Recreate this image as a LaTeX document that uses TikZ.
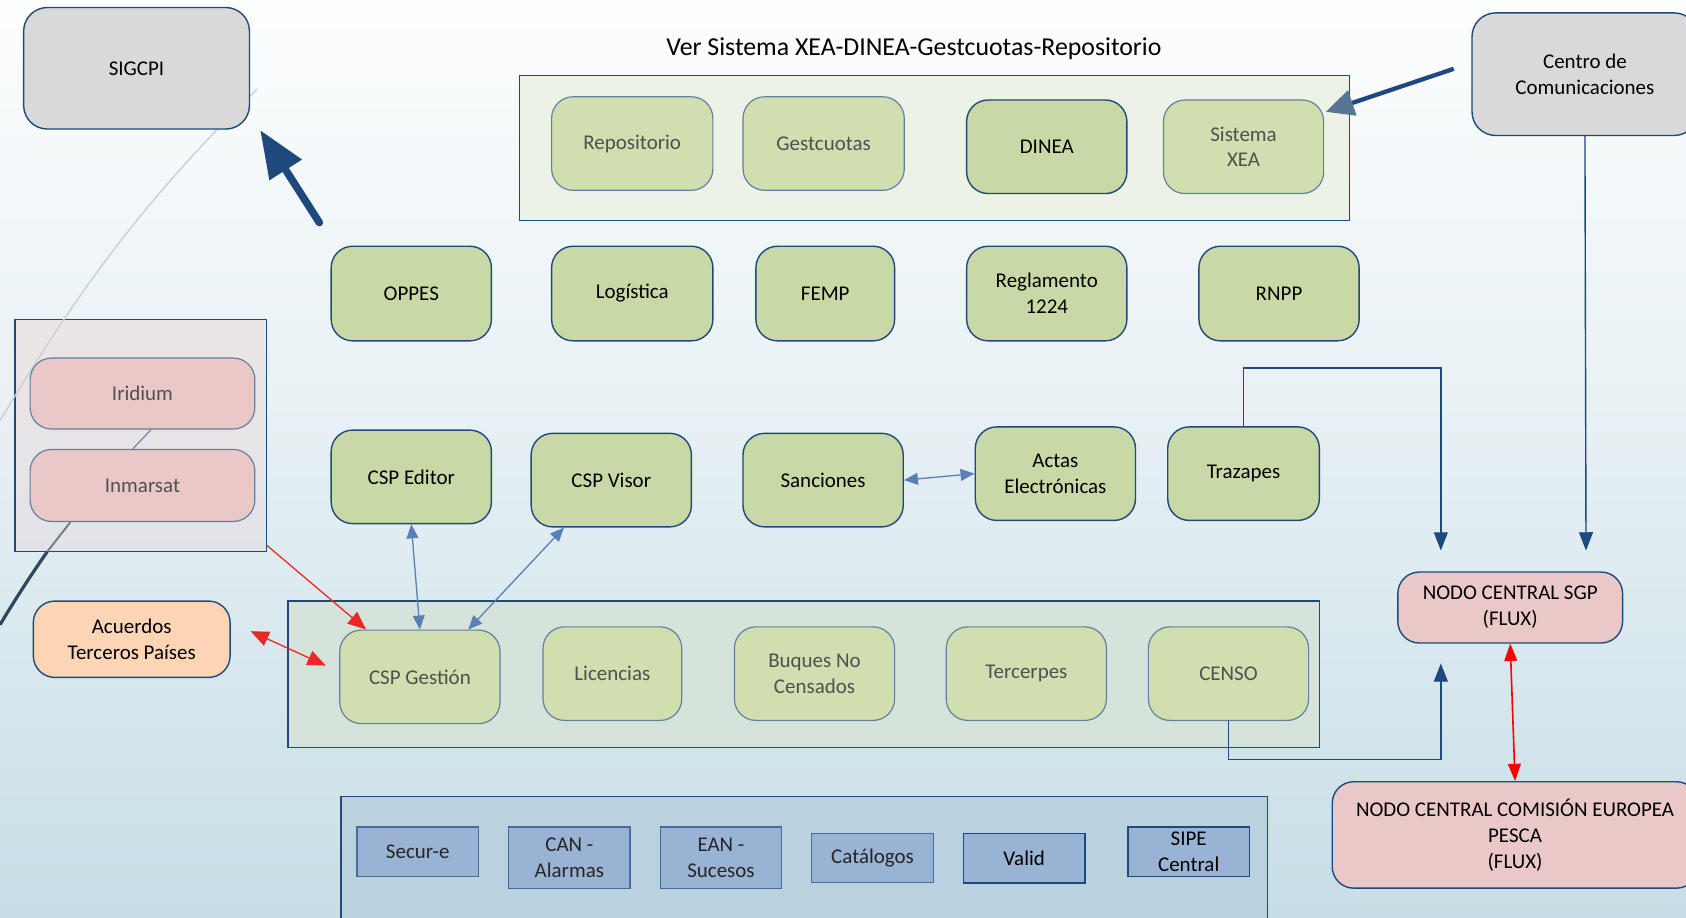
\documentclass[tikz,border=0pt]{standalone}
\usepackage{fontspec}
\setmainfont{Carlito}
\usetikzlibrary{arrows.meta}
\definecolor{dblue}{RGB}{31,73,125}
\definecolor{fborder}{RGB}{98,128,160}
\definecolor{gfill}{RGB}{201,217,166}
\definecolor{ffill}{RGB}{208,222,176}
\definecolor{txtgray}{RGB}{80,80,80}
\definecolor{grayfill}{RGB}{217,217,217}
\definecolor{pinkfill}{RGB}{235,200,200}
\definecolor{peach}{RGB}{252,213,181}
\definecolor{topcont}{RGB}{237,242,230}
\definecolor{midcont}{RGB}{213,227,219}
\definecolor{botcont}{RGB}{186,209,223}
\definecolor{irtop}{RGB}{236,229,230}
\definecolor{irbot}{RGB}{227,227,231}
\definecolor{smallfill}{RGB}{152,179,211}
\definecolor{smallborder}{RGB}{70,108,158}
\definecolor{steel}{RGB}{88,128,182}
\definecolor{bgtop}{RGB}{253,254,254}
\definecolor{bgmid}{RGB}{229,239,243}
\definecolor{bgbot}{RGB}{199,222,230}
\definecolor{headblue}{RGB}{88,118,148}
\definecolor{redarrow}{RGB}{235,40,40}
\definecolor{darkcurve}{RGB}{44,72,92}
\definecolor{midcurve}{RGB}{110,126,142}
\definecolor{faintcurve}{RGB}{200,208,214}
\begin{document}
\begin{tikzpicture}[x=1pt,y=-1pt,
  txt/.style={font=\fontsize{19.5}{24}\selectfont, align=center},
  gbox/.style={txt, draw=dblue, line width=1.3pt, fill=gfill, rounded corners=20pt, inner sep=0pt},
  fbox/.style={txt, draw=fborder, line width=1.1pt, fill=ffill, rounded corners=20pt, inner sep=0pt, text=txtgray},
  graybox/.style={txt, draw=dblue, line width=1.3pt, fill=grayfill, rounded corners=22pt, inner sep=0pt},
  pinkbox/.style={txt, draw=dblue, line width=1.3pt, fill=pinkfill, rounded corners=20pt, inner sep=0pt},
  pinkfaded/.style={txt, draw=fborder, line width=1.1pt, fill=pinkfill, rounded corners=20pt, inner sep=0pt, text=txtgray},
  cont/.style={draw=dblue, line width=1.3pt, inner sep=0pt},
  smallbox/.style={txt, draw=smallborder, line width=1.2pt, fill=smallfill, inner sep=0pt, text=black!85},
  sarrow/.style={draw=steel, line width=1.2pt, arrows={Triangle[length=13pt,width=11pt]-Triangle[length=13pt,width=11pt]}},
  rarrow/.style={draw=redarrow, line width=1.2pt},
  barrow/.style={draw=dblue, line width=1.3pt, arrows={-Triangle[length=17pt,width=13pt]}}
]
\useasboundingbox (0,0) rectangle (1568,853);
\shade[top color=bgtop, bottom color=bgbot, middle color=bgmid] (0,0) rectangle (1568,853);

% Iridium / Inmarsat container (with curves)
\coordinate (dcA) at (44,513);
\coordinate (dcB) at (0,581);
\draw[darkcurve, line width=3pt] (dcA) .. controls (30,533) and (15,556) .. (dcB);
\shade[draw=dblue, line width=1.3pt, top color=irtop, bottom color=irbot] (14,297) rectangle (248,513);
\node[inner sep=0pt, minimum width=234pt, minimum height=216pt] (irbox) at (131,405) {};

% faint curve (behind SIGCPI, over the container)
\coordinate (fcA) at (239,83);
\coordinate (fcB) at (0,391);
\draw[faintcurve, line width=1.3pt] (fcA) .. controls (129,191) and (70,275) .. (fcB);

% SIGCPI
\node[graybox, minimum width=210pt, minimum height=113pt] (sigcpi) at (127,63.5) {SIGCPI};

% Title
\node[font=\fontsize{24}{28}\selectfont] (title) at (850,45) {Ver Sistema XEA-DINEA-Gestcuotas-Repositorio};

% top container
\node[cont, fill=topcont, minimum width=772pt, minimum height=135pt] (topc) at (869,137.5) {};
\node[fbox, minimum width=150pt, minimum height=87pt] (repo) at (588,133.5) {Repositorio};
\node[fbox, minimum width=150pt, minimum height=87pt] (gest) at (766,133.5) {Gestcuotas};
\node[gbox, minimum width=149pt, minimum height=87pt] (dinea) at (973.5,136.5) {DINEA};
\node[fbox, minimum width=149pt, minimum height=87pt] (xea) at (1156.5,136.5) {Sistema\\XEA};

% Centro de Comunicaciones
\node[graybox, minimum width=210pt, minimum height=114pt] (centro) at (1474,69) {Centro de\\Comunicaciones};

% row 2
\node[gbox, minimum width=149pt, minimum height=88pt] (oppes) at (382.5,273) {OPPES};
\node[gbox, minimum width=150pt, minimum height=88pt] (logis) at (588,273) {Logística};
\node[gbox, minimum width=129pt, minimum height=88pt] (femp) at (767.5,273) {FEMP};
\node[gbox, minimum width=149pt, minimum height=88pt] (regl) at (973.5,273) {Reglamento\\1224};
\node[gbox, minimum width=149pt, minimum height=88pt] (rnpp) at (1189.5,273) {RNPP};

% Iridium / Inmarsat
\node[pinkfaded, minimum width=209pt, minimum height=66pt] (irid) at (132.5,366) {Iridium};
\node[pinkfaded, minimum width=209pt, minimum height=67pt] (inm) at (132.5,451.5) {Inmarsat};
\draw[fborder, line width=1pt] ([xshift=8pt]irid.south) -- ([xshift=-9pt]inm.north);
\draw[midcurve, line width=1.8pt] ([xshift=-67pt]inm.south) -- (dcA);

% row 3
\node[gbox, minimum width=149pt, minimum height=87pt] (editor) at (382.5,443.5) {CSP Editor};
\node[gbox, minimum width=149pt, minimum height=87pt] (visor) at (568.5,446.5) {CSP Visor};
\node[gbox, minimum width=149pt, minimum height=87pt] (sanc) at (765.5,446.5) {Sanciones};
\node[gbox, minimum width=149pt, minimum height=87pt] (actas) at (981.5,440.5) {Actas\\Electrónicas};
\node[gbox, minimum width=141pt, minimum height=87pt] (traza) at (1156.5,440.5) {Trazapes};

% middle-bottom container
\node[cont, fill=midcont, minimum width=959pt, minimum height=136pt] (midc) at (747.5,627) {};
\node[fbox, minimum width=149pt, minimum height=87pt] (gestion) at (390.5,629.5) {CSP Gestión};
\node[fbox, minimum width=129pt, minimum height=87pt] (lic) at (569.5,626.5) {Licencias};
\node[fbox, minimum width=149pt, minimum height=87pt] (buques) at (757.5,626.5) {Buques No\\Censados};
\node[fbox, minimum width=149pt, minimum height=87pt] (terc) at (954.5,626.5) {Tercerpes};
\node[fbox, minimum width=149pt, minimum height=87pt] (censo) at (1142.5,626.5) {CENSO};

% Acuerdos
\node[gbox, fill=peach, minimum width=183pt, minimum height=71pt] (acuer) at (122.5,594.5) {Acuerdos\\Terceros Países};

% NODOs
\node[pinkbox, minimum width=209pt, minimum height=66pt] (sgp) at (1404.5,565) {NODO CENTRAL SGP\\(FLUX)};
\node[pinkbox, minimum width=340pt, minimum height=99pt] (ce) at (1409,776.5) {NODO CENTRAL COMISIÓN EUROPEA\\PESCA\\(FLUX)};

% bottom container
\node[cont, fill=botcont, minimum width=862pt, minimum height=140pt] (botc) at (748,811) {};
\node[smallbox, minimum width=113pt, minimum height=46pt] (secur) at (388.5,792) {Secur-e};
\node[smallbox, minimum width=113pt, minimum height=57pt] (can) at (529.5,797.5) {CAN -\\Alarmas};
\node[smallbox, minimum width=113pt, minimum height=57pt] (ean) at (670.5,797.5) {EAN -\\Sucesos};
\node[smallbox, minimum width=113pt, minimum height=46pt] (catal) at (811.5,798) {Catálogos};
\node[smallbox, draw=dblue, line width=1.5pt, text=black, minimum width=113pt, minimum height=46pt] (valid) at (952.5,798) {Valid};
\node[smallbox, draw=dblue, text=black, minimum width=113pt, minimum height=46pt] (sipe) at (1105.5,792) {SIPE\\Central};

% ---------- connectors ----------
% big arrow to SIGCPI
\coordinate (bigA) at (297,207);
\coordinate (bigB) at (242,121);
\draw[dblue, line width=7pt, line cap=round, arrows={-Triangle[length=44pt,width=34pt]}] (bigA) -- (bigB);

% Centro -> Sistema XEA
\coordinate (ccA) at (1352,64);
\coordinate (ccB) at (1233,104);
\draw[dblue, line width=4pt, arrows={-Triangle[length=26pt,width=24pt,fill=headblue,color=headblue]}] (ccA) -- (ccB);

% Centro -> NODO SGP
\coordinate (csEnd) at (1475,512);
\draw[barrow] (centro.south) -- (csEnd);

% Trazapes -> NODO SGP
\coordinate (tzEnd) at (1340,512);
\draw[barrow] (traza.north) -- ++(0,-54) -| (tzEnd);

% CENSO -> NODO SGP
\coordinate (cnEnd) at (1340,617);
\draw[barrow] (censo.south) -- ++(0,36) -| (cnEnd);

% NODO SGP <-> NODO CE
\draw[draw=red, line width=1.5pt, arrows={Triangle[length=16pt,width=12pt]-Triangle[length=16pt,width=12pt]}] (sgp.south) -- (ce.north);

% Sanciones <-> Actas
\draw[sarrow] (sanc.east) -- (actas.west);

% CSP Editor <-> CSP Gestion
\draw[sarrow] (editor.south) -- (gestion.north);

% CSP Visor <-> CSP Gestion
\draw[sarrow] ([xshift=-44pt]visor.south) -- ([xshift=45pt]gestion.north);

% Iridium box -> CSP Gestion
\draw[rarrow, arrows={-Triangle[length=17pt,width=14pt]}] ([yshift=6pt]irbox.south east) -- ([xshift=-50pt]gestion.north);

% Acuerdos <-> CSP Gestion
\coordinate (acA) at (233,587);
\coordinate (acB) at (303,619);
\draw[rarrow, arrows={Triangle[length=17pt,width=14pt]-Triangle[length=17pt,width=14pt]}] (acA) -- (acB);
\end{tikzpicture}
\end{document}
